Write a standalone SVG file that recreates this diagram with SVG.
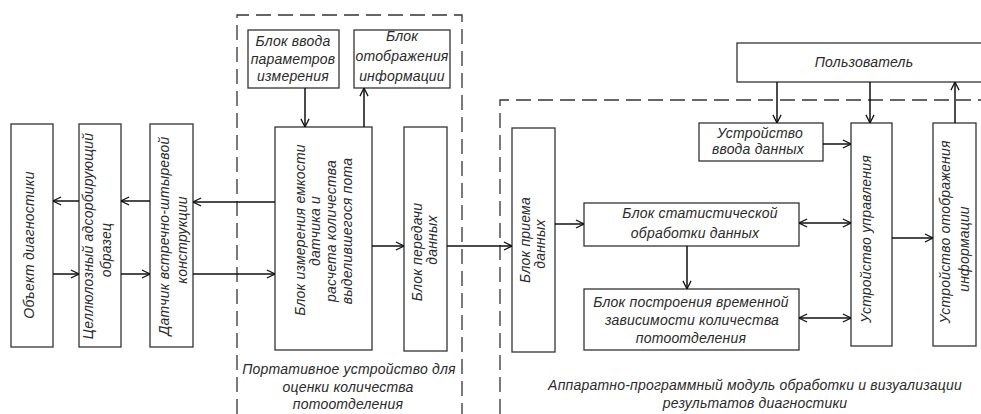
<svg xmlns="http://www.w3.org/2000/svg" width="981" height="414" viewBox="0 0 981 414">
<style>
.bg{fill:#ffffff}
.box{fill:#ffffff;stroke:#333333;stroke-width:1.3}
.dash{fill:none;stroke:#333333;stroke-width:1.3;stroke-dasharray:15 7}
.ln{fill:none;stroke:#111111;stroke-width:1.5}
text{font-family:"Liberation Sans","DejaVu Sans",sans-serif;font-style:italic;font-size:14px;fill:#2a2a2a;text-anchor:middle;letter-spacing:0.2px}
</style>
<defs>
<marker id="ah" viewBox="0 0 10 10" refX="10" refY="5" markerWidth="9" markerHeight="10" markerUnits="userSpaceOnUse" orient="auto-start-reverse">
<path d="M1,0.5 L10,5 L1,9.5" fill="none" stroke="#111111" stroke-width="1.4"/>
</marker>
</defs>
<rect class="bg" x="0" y="0" width="981" height="414"/>

<g id="containers">
<path class="dash" d="M237,414 V15 H462 V414"/>
<path class="dash" d="M500,414 V100 H981"/>
<text x="349" y="374">Портативное устройство для</text>
<text x="348" y="392">оценки количества</text>
<text x="348" y="409">потоотделения</text>
<text x="755" y="390">Аппаратно-программный модуль обработки и визуализации</text>
<text x="755" y="408">результатов диагностики</text>
</g>

<g id="object">
<rect class="box" x="11" y="124" width="42" height="223"/>
<text transform="translate(34,245) rotate(-90)">Объект диагностики</text>
</g>
<g id="sample">
<rect class="box" x="79" y="124" width="42" height="223"/>
<text transform="translate(93,236) rotate(-90)">Целлюлозный адсорбирующий</text>
<text transform="translate(111,250) rotate(-90)">образец</text>
</g>
<g id="sensor">
<rect class="box" x="150" y="124" width="43" height="223"/>
<text transform="translate(169,236) rotate(-90)">Датчик встречно-штыревой</text>
<text transform="translate(187,240) rotate(-90)">конструкции</text>
</g>
<g id="param-input">
<rect class="box" x="248" y="30" width="91" height="58"/>
<text x="293" y="46">Блок ввода</text>
<text x="293" y="64">параметров</text>
<text x="293" y="81">измерения</text>
</g>
<g id="info-display">
<rect class="box" x="354" y="30" width="96" height="58"/>
<text x="402" y="41">Блок</text>
<text x="402" y="61">отображения</text>
<text x="402" y="81">информации</text>
</g>
<g id="measure">
<rect class="box" x="275" y="127" width="97" height="223"/>
<text transform="translate(305,230) rotate(-90)">Блок измерения емкости</text>
<text transform="translate(320,231) rotate(-90)">датчика и</text>
<text transform="translate(336,231) rotate(-90)">расчета количества</text>
<text transform="translate(352,231) rotate(-90)">выделившегося пота</text>
</g>
<g id="transmit">
<rect class="box" x="404" y="127" width="43" height="224"/>
<text transform="translate(422,252) rotate(-90)">Блок передачи</text>
<text transform="translate(437,240) rotate(-90)">данных</text>
</g>
<g id="receive">
<rect class="box" x="512" y="128" width="43" height="224"/>
<text transform="translate(530,240) rotate(-90)">Блок приема</text>
<text transform="translate(545,244) rotate(-90)">данных</text>
</g>
<g id="stat">
<rect class="box" x="584" y="203" width="215" height="43"/>
<text x="700" y="218">Блок статистической</text>
<text x="695" y="238">обработки данных</text>
</g>
<g id="timedep">
<rect class="box" x="584" y="289" width="215" height="61"/>
<text x="691" y="307">Блок построения временной</text>
<text x="692" y="325">зависимости количества</text>
<text x="691" y="343">потоотделения</text>
</g>
<g id="user">
<rect class="box" x="737" y="43" width="260" height="39"/>
<text x="864" y="67">Пользователь</text>
</g>
<g id="data-input">
<rect class="box" x="699" y="123" width="124" height="38"/>
<text x="760" y="138">Устройство</text>
<text x="758" y="154">ввода данных</text>
</g>
<g id="control">
<rect class="box" x="851" y="123" width="41" height="223"/>
<text transform="translate(871,239) rotate(-90)">Устройство управления</text>
</g>
<g id="display">
<rect class="box" x="933" y="123" width="43" height="223"/>
<text transform="translate(950,232) rotate(-90)">Устройство отображения</text>
<text transform="translate(969,249) rotate(-90)">информации</text>
</g>

<g id="connectors">
<line class="ln" x1="79" y1="201" x2="53" y2="201" marker-end="url(#ah)"/>
<line class="ln" x1="150" y1="201" x2="121" y2="201" marker-end="url(#ah)"/>
<line class="ln" x1="275" y1="202" x2="193" y2="202" marker-end="url(#ah)"/>
<line class="ln" x1="53" y1="274" x2="79" y2="274" marker-end="url(#ah)"/>
<line class="ln" x1="121" y1="274" x2="150" y2="274" marker-end="url(#ah)"/>
<line class="ln" x1="193" y1="274" x2="275" y2="274" marker-end="url(#ah)"/>
<line class="ln" x1="305" y1="88" x2="305" y2="127" marker-end="url(#ah)"/>
<line class="ln" x1="364" y1="127" x2="364" y2="88" marker-end="url(#ah)"/>
<line class="ln" x1="372" y1="246" x2="404" y2="246" marker-end="url(#ah)"/>
<line class="ln" x1="447" y1="246" x2="512" y2="246" marker-end="url(#ah)"/>
<line class="ln" x1="555" y1="224" x2="584" y2="224" marker-end="url(#ah)"/>
<line class="ln" x1="687" y1="246" x2="687" y2="289" marker-end="url(#ah)"/>
<line class="ln" x1="799" y1="223" x2="851" y2="223" marker-start="url(#ah)" marker-end="url(#ah)"/>
<line class="ln" x1="799" y1="318" x2="851" y2="318" marker-start="url(#ah)" marker-end="url(#ah)"/>
<line class="ln" x1="823" y1="144" x2="851" y2="144" marker-end="url(#ah)"/>
<line class="ln" x1="777" y1="82" x2="777" y2="123" marker-end="url(#ah)"/>
<line class="ln" x1="870" y1="82" x2="870" y2="123" marker-end="url(#ah)"/>
<line class="ln" x1="955" y1="123" x2="955" y2="82" marker-end="url(#ah)"/>
<line class="ln" x1="892" y1="238" x2="933" y2="238" marker-end="url(#ah)"/>
</g>
</svg>
